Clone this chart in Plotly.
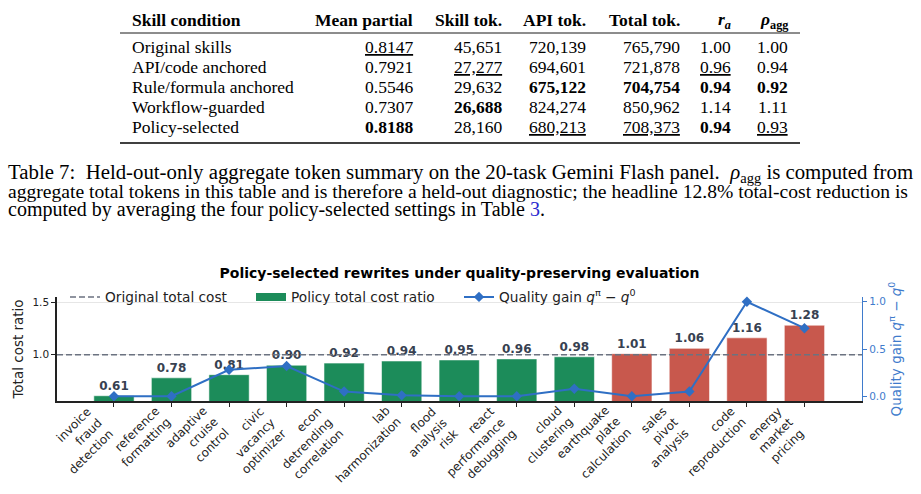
import plotly.graph_objects as go

# ---------------- data ----------------
tasks = [
    "invoice<br>fraud<br>detection",
    "reference<br>formatting",
    "adaptive<br>cruise<br>control",
    "civic<br>vacancy<br>optimizer",
    "econ<br>detrending<br>correlation",
    "lab<br>harmonization",
    "flood<br>analysis<br>risk",
    "react<br>performance<br>debugging",
    "cloud<br>clustering",
    "earthquake<br>plate<br>calculation",
    "sales<br>pivot<br>analysis",
    "code<br>reproduction",
    "energy<br>market<br>pricing",
]
cost_ratio = [0.61, 0.78, 0.81, 0.90, 0.92, 0.94, 0.95, 0.96, 0.98, 1.01, 1.06, 1.16, 1.28]
quality_gain = [0.0, 0.0, 0.28, 0.32, 0.05, 0.01, 0.0, 0.0, 0.08, 0.0, 0.05, 1.0, 0.72]
baseline_cost = 1.0

conditions = ["Original skills", "API/code anchored", "Rule/formula anchored",
              "Workflow-guarded", "Policy-selected"]
mean_partial = ["0.8147", "0.7921", "0.5546", "0.7307", "0.8188"]
skill_tok = ["45,651", "27,277", "29,632", "26,688", "28,160"]
api_tok = ["720,139", "694,601", "675,122", "824,274", "680,213"]
total_tok = ["765,790", "721,878", "704,754", "850,962", "708,373"]
r_a = ["1.00", "0.96", "0.94", "1.14", "0.94"]
rho_agg = ["1.00", "0.94", "0.92", "1.11", "0.93"]
# style marks per cell: "b" bold, "u" underline
mean_partial_sty = ["u", "", "", "", "b"]
skill_tok_sty = ["", "u", "", "b", ""]
api_tok_sty = ["", "", "b", "", "u"]
total_tok_sty = ["", "", "b", "", "u"]
r_a_sty = ["", "u", "b", "", "b"]
rho_agg_sty = ["", "", "b", "", "u"]
headers = ["Skill condition", "Mean partial", "Skill tok.", "API tok.", "Total tok.",
           "<i>r</i><sub><i>a</i></sub>", "<i>ρ</i><sub>agg</sub>"]

caption_lines = [
    "Table 7:  Held-out-only aggregate token summary on the 20-task Gemini Flash panel.  <i>ρ</i><sub>agg</sub> is computed from",
    "aggregate total tokens in this table and is therefore a held-out diagnostic; the headline 12.8% total-cost reduction is",
    "computed by averaging the four policy-selected settings in Table <span style=\"color:#2a2ad0\">3</span>.",
]

# ---------------- geometry ----------------
W, H = 921, 494
L, R, T, B = 57, 59, 297, 93
PW = W - L - R
PH = H - T - B


def px(x):
    return (x - L) / PW


def py(y):
    return (H - B - y) / PH


GREEN = "#1c8c5a"
RED = "#c8584d"
BLUE = "#2f6fc4"
AXBLUE = "#3f7bcc"
GRAY = "#6b7280"
LABEL = "#374151"
SANS = "DejaVu Sans"
SERIF = "Liberation Serif"

fig = go.Figure()

bar_colors = [GREEN if v < baseline_cost else RED for v in cost_ratio]
xs = list(range(len(tasks)))

fig.add_trace(go.Bar(
    x=xs, y=cost_ratio, width=0.7,
    marker=dict(color=bar_colors, line=dict(color="rgba(255,255,255,0.55)", width=1)),
    texttemplate="<b>%{y:.2f}</b>", textposition="outside", constraintext="none",
    textfont=dict(size=12, color=LABEL, family=SANS),
    cliponaxis=False, showlegend=False, hoverinfo="skip",
))

# legend proxies
fig.add_trace(go.Scatter(
    x=[None], y=[None], mode="lines", name="Original total cost",
    line=dict(color=GRAY, width=1.5, dash="6px,3px"), legend="legend",
))
fig.add_trace(go.Scatter(
    x=[None], y=[None], mode="lines", name="Policy total cost ratio",
    line=dict(color=GREEN, width=8), legend="legend2",
))

fig.add_trace(go.Scatter(
    x=xs, y=quality_gain, yaxis="y2", mode="lines+markers",
    name="Quality gain <i>q</i><sup>π</sup> − <i>q</i><sup>0</sup>",
    line=dict(color=BLUE, width=2), marker=dict(symbol="diamond", size=8, color=BLUE),
    legend="legend3", cliponaxis=False,
))

fig.add_shape(type="line", xref="x domain", x0=0, x1=1, yref="y",
              y0=baseline_cost, y1=baseline_cost,
              line=dict(color=GRAY, width=1.5, dash="6px,3px"), layer="above")

annotations = []
shapes = []

# ---------------- rotated x tick labels (right-aligned, like ha="right") ----------------
for i, lab in zip(xs, tasks):
    annotations.append(dict(text=lab, x=i, xref="x", y=0, yref="paper",
                            xanchor="right", yanchor="top", textangle=-45, align="right",
                            yshift=-3, xshift=2, showarrow=False, borderpad=0, borderwidth=0,
                            font=dict(family=SANS, size=12, color="#222")))

# ---------------- table ----------------
tab_left, tab_right = 120, 800
rule_y = [(8, 1.6), (33, 0.9), (143, 1.6)]
for yy, lw in rule_y:
    shapes.append(dict(type="line", xref="paper", yref="paper",
                       x0=px(tab_left), x1=px(tab_right), y0=py(yy), y1=py(yy),
                       line=dict(color="black", width=lw)))

col_right = [415, 504, 588, 682, 733, 790]
header_y = 20
row_y = [46.5, 66.7, 86.9, 107.1, 127.3]
TFS = 17.5

annotations.append(dict(text="<b>" + headers[0] + "</b>", x=px(130), y=py(header_y),
                        xref="paper", yref="paper", xanchor="left", yanchor="middle",
                        showarrow=False, font=dict(family=SERIF, size=TFS, color="black")))
for h, xr in zip(headers[1:], col_right):
    annotations.append(dict(text="<b>" + h + "</b>", x=px(xr), y=py(header_y),
                            xref="paper", yref="paper", xanchor="right", yanchor="middle",
                            showarrow=False, font=dict(family=SERIF, size=TFS, color="black")))


def fmt(v, s):
    if s == "b":
        return "<b>" + v + "</b>"
    if s == "u":
        return "<span style=\"text-decoration:underline\">" + v + "</span>"
    return v


cols = [(mean_partial, mean_partial_sty), (skill_tok, skill_tok_sty), (api_tok, api_tok_sty),
        (total_tok, total_tok_sty), (r_a, r_a_sty), (rho_agg, rho_agg_sty)]
for i, cond in enumerate(conditions):
    annotations.append(dict(text=cond, x=px(130), y=py(row_y[i]),
                            xref="paper", yref="paper", xanchor="left", yanchor="middle",
                            showarrow=False, font=dict(family=SERIF, size=TFS, color="black")))
    for (vals, sty), xr in zip(cols, col_right):
        annotations.append(dict(text=fmt(vals[i], sty[i]), x=px(xr), y=py(row_y[i]),
                                xref="paper", yref="paper", xanchor="right", yanchor="middle",
                                showarrow=False, font=dict(family=SERIF, size=TFS, color="black")))

# ---------------- caption ----------------
cap_y = [173, 191, 209]
cap_size = [20.8, 19.6, 20.0]
for line, yy, fs in zip(caption_lines, cap_y, cap_size):
    annotations.append(dict(text=line, x=px(6), y=py(yy), xref="paper", yref="paper",
                            xanchor="left", yanchor="middle", showarrow=False,
                            font=dict(family=SERIF, size=fs, color="black")))

fig.update_layout(
    width=W, height=H,
    margin=dict(l=L, r=R, t=T, b=B, pad=0, autoexpand=False),
    paper_bgcolor="white", plot_bgcolor="white",
    font=dict(family=SANS, color="#222222"),
    title=dict(text="<b>Policy-selected rewrites under quality-preserving evaluation</b>",
               x=0.5, xref="paper", xanchor="center",
               y=1 - 273 / H, yref="container", yanchor="middle",
               font=dict(size=14, color="black", family=SANS)),
    bargap=0.3,
    xaxis=dict(range=[-0.99, 13.0], tickvals=xs, showticklabels=False,
               ticks="outside", ticklen=4,
               tickcolor="#222", showline=True, linecolor="#222", linewidth=1.5,
               showgrid=False, zeroline=False, automargin=False),
    yaxis=dict(range=[0.56, 1.548], tickvals=[1.0, 1.5], tickformat=".1f",
               tickfont=dict(size=10.5, color="#222"), ticks="outside", ticklen=4,
               tickcolor="#222", showline=True, linecolor="#222", linewidth=1.5,
               showgrid=True, gridcolor="#e6e6e6", gridwidth=1, zeroline=False,
               automargin=False,
               title=dict(text="Total cost ratio", font=dict(size=13.5, color="#222"),
                          standoff=6)),
    yaxis2=dict(range=[-0.05, 1.05], overlaying="y", side="right",
                tickvals=[0.0, 0.5, 1.0], tickformat=".1f",
                tickfont=dict(size=10.5, color=AXBLUE), ticks="outside", ticklen=4,
                tickcolor=AXBLUE, showline=True, linecolor=AXBLUE, linewidth=1.2,
                showgrid=False, zeroline=False, automargin=False,
                title=dict(text="Quality gain <i>q</i><sup>π</sup> − <i>q</i><sup>0</sup>",
                           font=dict(size=13.5, color=AXBLUE), standoff=6)),
    legend=dict(x=px(65), y=py(297), xanchor="left", yanchor="middle", orientation="h",
                bgcolor="rgba(0,0,0,0)", font=dict(size=13.7, color="#222")),
    legend2=dict(x=px(251), y=py(297), xanchor="left", yanchor="middle", orientation="h",
                 bgcolor="rgba(0,0,0,0)", font=dict(size=13.7, color="#222")),
    legend3=dict(x=px(459), y=py(297), xanchor="left", yanchor="middle", orientation="h",
                 bgcolor="rgba(0,0,0,0)", font=dict(size=13.7, color="#222")),
    annotations=annotations,
    shapes=shapes,
)

fig.write_html("out.html")
